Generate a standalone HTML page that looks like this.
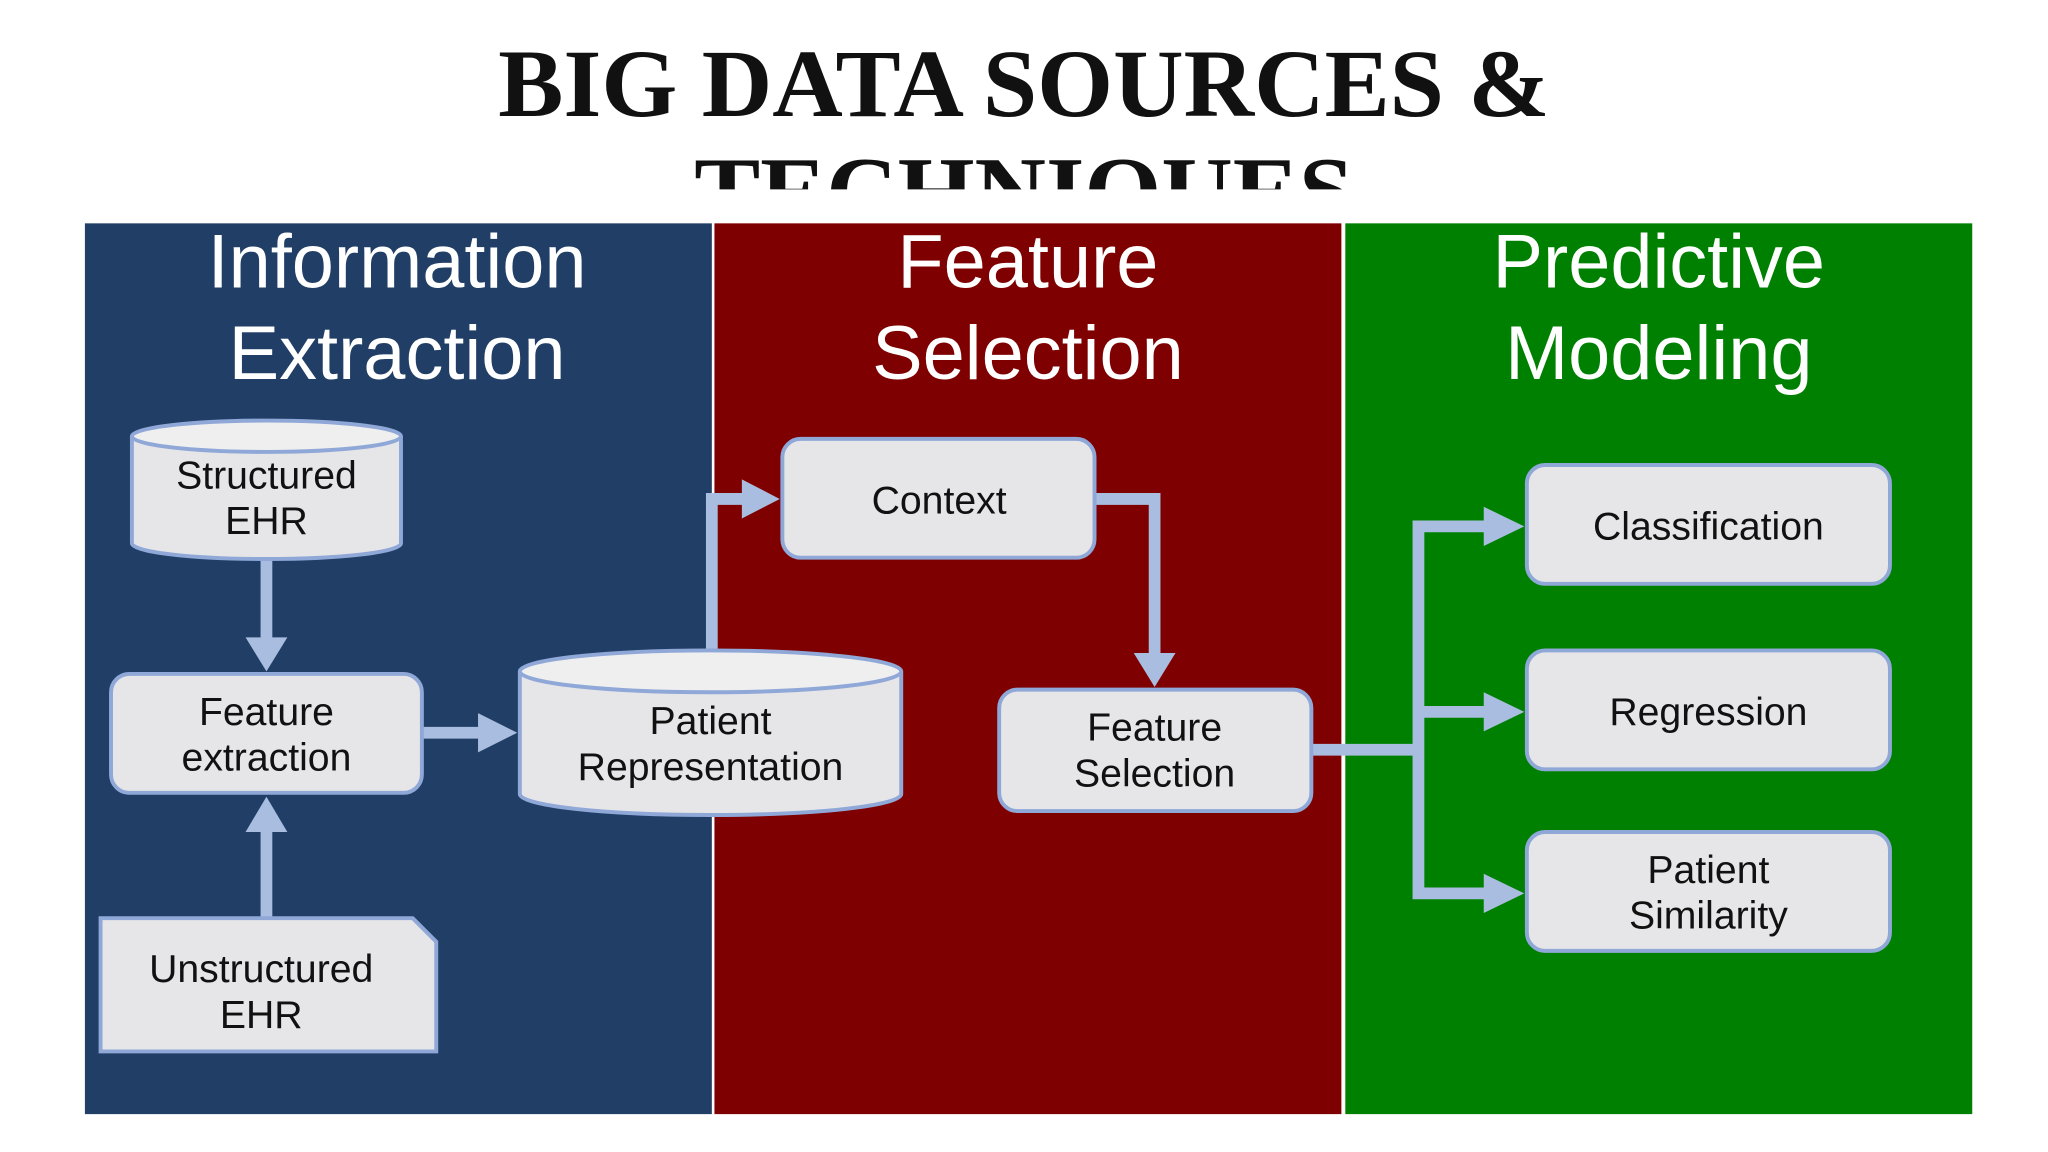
<!DOCTYPE html>
<html><head><meta charset="utf-8"><style>
html,body{margin:0;padding:0;background:#fff;width:2048px;height:1152px;overflow:hidden}
svg text{font-family:"Liberation Sans",sans-serif}
</style></head><body>
<svg width="2048" height="1152" viewBox="0 0 1568 882" xmlns="http://www.w3.org/2000/svg">
<defs><clipPath id="tc"><rect x="0" y="0" width="1568" height="145"/></clipPath></defs>
<g clip-path="url(#tc)" font-family="Liberation Serif,serif" fill="#111" text-anchor="middle">
<text x="784" y="89" style="font-family:'Liberation Serif',serif" font-size="74" font-weight="bold" textLength="805" lengthAdjust="spacingAndGlyphs">BIG DATA SOURCES &amp;</text>
<text x="784" y="171" style="font-family:'Liberation Serif',serif" font-size="74" font-weight="bold" textLength="505" lengthAdjust="spacingAndGlyphs">TECHNIQUES</text>
</g>
<rect x="65" y="171" width="480" height="682" fill="#213f66"/>
<rect x="547" y="171" width="480" height="682" fill="#7f0000"/>
<rect x="1030" y="171" width="480" height="682" fill="#008000"/>
<g fill="#fff" font-size="58" text-anchor="middle">
<text x="304" y="220">Information</text><text x="304" y="290">Extraction</text>
<text x="787" y="220">Feature</text><text x="787" y="290">Selection</text>
<text x="1270" y="220">Predictive</text><text x="1270" y="290">Modeling</text>
</g>
<g stroke="#a9bde0" stroke-width="9" fill="none">
<line x1="204" y1="428" x2="204" y2="490"/>
<line x1="204" y1="703" x2="204" y2="635"/>
<line x1="323" y1="561" x2="370" y2="561"/>
<polyline points="545,498 545,382 572,382"/>
<polyline points="838,382 884,382 884,502"/>
<polyline points="1004,574 1086,574"/>
<polyline points="1140,403 1086,403 1086,684 1140,684"/>
<line x1="1086" y1="545" x2="1140" y2="545"/>
</g>
<g fill="#a9bde0">
<polygon points="188,488 220,488 204,514"/>
<polygon points="188,637 220,637 204,610"/>
<polygon points="366,546 366,576 396,561"/>
<polygon points="568,367 568,397 597,382"/>
<polygon points="868,500 900,500 884,526"/>
<polygon points="1136,388 1136,418 1167,403"/>
<polygon points="1136,530 1136,560 1167,545"/>
<polygon points="1136,669 1136,699 1167,684"/>
</g>
<g fill="#e6e6e8" stroke="#8fa8d8" stroke-width="3">
<path d="M101,334 L101,416 A103,12 0 0 0 307,416 L307,334"/>
<ellipse cx="204" cy="334" rx="103" ry="12" fill="#efefef"/>
<rect x="85" y="516" width="238" height="91" rx="14"/>
<path d="M77,703 L316,703 L334,721 L334,805 L77,805 Z"/>
<path d="M398,514 L398,608 A146,16 0 0 0 690,608 L690,514"/>
<ellipse cx="544" cy="514" rx="146" ry="16" fill="#efefef"/>
<rect x="599" y="336" width="239" height="91" rx="14"/>
<rect x="765" y="528" width="239" height="93" rx="14"/>
<rect x="1169" y="356" width="278" height="91" rx="14"/>
<rect x="1169" y="498" width="278" height="91" rx="14"/>
<rect x="1169" y="637" width="278" height="91" rx="14"/>
</g>
<g fill="#111" font-size="30" text-anchor="middle">
<text x="204" y="374">Structured</text><text x="204" y="409">EHR</text>
<text x="204" y="555">Feature</text><text x="204" y="590">extraction</text>
<text x="200" y="752">Unstructured</text><text x="200" y="787">EHR</text>
<text x="544" y="562">Patient</text><text x="544" y="597">Representation</text>
<text x="719" y="393">Context</text>
<text x="884" y="567">Feature</text><text x="884" y="602">Selection</text>
<text x="1308" y="413">Classification</text>
<text x="1308" y="555">Regression</text>
<text x="1308" y="676">Patient</text><text x="1308" y="711">Similarity</text>
</g>
</svg>
</body></html>
